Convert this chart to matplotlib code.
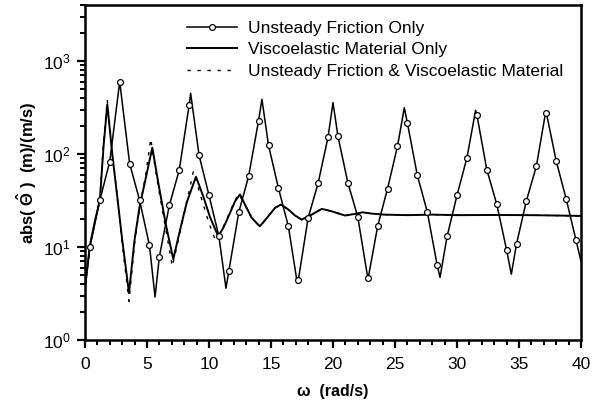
import matplotlib
matplotlib.use("Agg")
import matplotlib.pyplot as plt
import numpy as np
from matplotlib.ticker import LogLocator, MultipleLocator, NullFormatter

plt.rcParams['font.family'] = ['Liberation Sans', 'DejaVu Sans']
plt.rcParams['mathtext.fontset'] = 'custom'
plt.rcParams['mathtext.rm'] = 'Liberation Sans'
plt.rcParams['mathtext.bf'] = 'Liberation Sans:bold'
plt.rcParams['mathtext.it'] = 'Liberation Sans:italic'

# Unsteady friction only: points carrying markers
uf_mark_w = [0.4, 1.2, 2.0, 2.8, 3.6, 4.4, 5.2, 6.0, 6.8, 7.6, 8.4, 9.2, 10.0,
             10.8, 11.6, 12.4, 13.2, 14.0, 14.8, 15.6, 16.4, 17.2, 18.0, 18.8,
             19.6, 20.4, 21.2, 22.0, 22.8, 23.6, 24.4, 25.2, 26.0, 26.8, 27.6,
             28.4, 29.2, 30.0, 30.8, 31.6, 32.4, 33.2, 34.0, 34.8, 35.6, 36.4,
             37.2, 38.0, 38.8, 39.6]
uf_mark_val = [10, 32, 83, 600, 79, 32, 10.4, 7.9, 28, 67, 336, 97, 36,
               13, 5.5, 23.6, 58, 229, 124, 43, 16.7, 4.4, 20.7, 48.5,
               152, 155, 49, 21, 4.7, 16.7, 42.5, 121, 215, 59, 24,
               6.4, 13, 36, 91, 265, 68, 29, 9.3, 10.8, 31.6, 74,
               279, 84, 33, 11.8]
# resonance peaks, anti-resonances and end points between markers
uf_peak_w = [0.0, 5.65, 8.52, 11.37, 14.27, 17.12, 20.0, 22.82, 25.75, 28.63,
             31.5, 34.38, 37.15, 40.0]
uf_peak_val = [3.6, 2.9, 450, 3.6, 388, 4.1, 357, 4.5, 315, 4.7,
               295, 5.1, 283, 7.0]

# viscoelastic material only
vm_w = [0.0, 0.4, 0.8, 1.2, 1.5, 1.8, 2.2, 2.6, 3.0, 3.55, 4.0, 4.4, 4.9, 5.43,
        5.9, 6.5, 7.12, 7.6, 8.2, 8.95, 9.54, 10.08, 10.75, 11.2, 11.7, 12.1,
        12.5, 12.9, 13.44, 14.1, 14.78, 15.32, 15.8, 16.4, 16.94, 17.47, 18.28,
        19.1, 19.9, 20.97, 21.7, 22.4, 23.2, 24.1, 26.0, 28.0, 30.0, 33.0,
        36.0, 40.0]
vm_val = [3.6, 10.5, 19, 32, 122, 343, 100, 35, 12, 3.2, 12, 27, 55, 117,
          50, 18, 7.4, 14, 30, 57, 35, 21, 13, 16.5, 23.3, 31,
          36.7, 28.6, 20.6, 16.7, 21.4, 26.3, 28.6, 25.3, 21.8, 19.7, 22.3,
          25.7, 24.2, 21.8, 22.6, 23.6, 22.8, 22.3, 22.0, 22.3, 22.0, 22.1,
          22.0, 21.6]

# unsteady friction & viscoelastic material
both_w = [0.0, 0.4, 0.8, 1.2, 1.5, 1.8, 2.2, 2.6, 3.0, 3.55, 4.0, 4.4, 4.9, 5.3,
          5.9, 6.5, 7.04, 7.6, 8.2, 8.74, 9.4, 10.0, 10.5, 11.2, 11.7, 12.1,
          12.4, 12.9, 13.44, 14.1, 14.78, 15.32, 15.8, 16.4, 16.94, 17.47, 18.28,
          19.1, 19.9, 20.97, 21.7, 22.4, 23.2, 24.1, 26.0, 28.0, 30.0, 33.0,
          36.0, 40.0]
both_val = [3.6, 10.5, 19, 32, 135, 381, 105, 35, 11, 2.6, 11, 26, 60, 146,
            45, 16, 6.2, 13, 30, 65, 33, 18, 12, 17, 24, 32,
            37, 28.6, 20.6, 16.5, 21.4, 26.3, 28.6, 25.3, 21.8, 19.7, 22.3,
            25.7, 24.2, 21.8, 22.6, 23.6, 22.8, 22.3, 22.0, 22.3, 22.0, 22.1,
            22.0, 21.6]

labels = ['Unsteady Friction Only', 'Viscoelastic Material Only',
          'Unsteady Friction & Viscoelastic Material']

uf_w = np.array(uf_mark_w + uf_peak_w)
uf_val = np.array(uf_mark_val + uf_peak_val)
order = np.argsort(uf_w)
uf_w, uf_val = uf_w[order], uf_val[order]
uf_marked = np.isin(uf_w, uf_mark_w)

fig = plt.figure(figsize=(5.93, 4.04), dpi=100)
ax = fig.add_axes([0.1433, 0.1584, 0.8365, 0.8292])

ax.plot(both_w, both_val, color='black', lw=1.0, dashes=(2.4, 4.8), label=labels[2])
ax.plot(vm_w, vm_val, color='black', lw=1.4, label=labels[1])
ax.plot(uf_w, uf_val, color='black', lw=1.1, marker='o', markersize=4.2,
        markerfacecolor='white', markeredgewidth=0.9, markevery=list(uf_marked),
        label=labels[0])

ax.set_yscale('log')
ax.set_xlim(0, 40)
ax.set_ylim(1, 4000)
ax.xaxis.set_major_locator(MultipleLocator(5))
ax.xaxis.set_minor_locator(MultipleLocator(1))
ax.yaxis.set_major_locator(LogLocator(base=10, numticks=10))
ax.yaxis.set_minor_locator(LogLocator(base=10, subs=np.arange(2, 10), numticks=10))
ax.yaxis.set_minor_formatter(NullFormatter())

for sp in ax.spines.values():
    sp.set_linewidth(1.8)
ax.tick_params(which='major', direction='out', length=6, width=1.6, labelsize=12.5)
ax.tick_params(axis='x', which='major', pad=6)
ax.tick_params(axis='y', which='major', pad=4)
ax.tick_params(which='minor', direction='out', length=3.6, width=1.4)
ax.tick_params(top=False, right=False)

ax.set_xlabel('ω  (rad/s)', fontsize=11.5, fontweight='bold', labelpad=9)
ax.set_ylabel(r'abs( $\mathbf{\hat{\Theta}}$ )  (m)/(m/s)', fontsize=12,
              fontweight='bold', labelpad=3)

handles, labs = ax.get_legend_handles_labels()
ax.legend(handles[::-1], labs[::-1], loc='upper left', bbox_to_anchor=(0.205, 0.953),
          frameon=False, fontsize=12.5, handlelength=2.9, handletextpad=0.63,
          labelspacing=0.36, borderpad=0, borderaxespad=0)

fig.savefig('out.png', dpi=100)
